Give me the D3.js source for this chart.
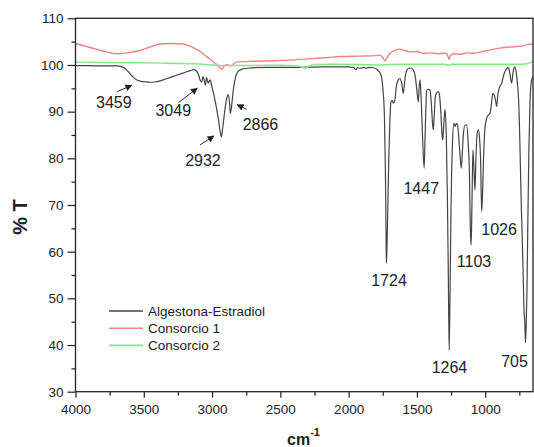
<!DOCTYPE html>
<html>
<head>
<meta charset="utf-8">
<script src="https://cdn.jsdelivr.net/npm/d3@7"></script>
<style>
body { margin: 0; background: #fff; }
svg { display: block; font-family: "Liberation Sans", Arial, sans-serif; }
</style>
</head>
<body>
<svg width="534" height="447"></svg>
<script>
//spectra: [wavenumber cm-1, %T]
var algestona = [
    [4000, 99.85], [3900, 99.85], [3800, 99.8], [3700, 99.8], [3660, 99.6], [3630, 99.1], [3600, 98.1],
    [3575, 97.3], [3550, 96.8], [3520, 96.5], [3490, 96.4], [3459, 96.3], [3420, 96.35], [3380, 96.6],
    [3340, 97.0], [3300, 97.4], [3250, 97.9], [3200, 98.4], [3160, 98.8], [3135, 99.0], [3115, 98.7],
    [3100, 98.0], [3088, 96.8], [3076, 96.4], [3066, 97.5], [3058, 96.8], [3049, 95.7], [3040, 97.3],
    [3028, 96.1], [3015, 96.8], [3000, 95.2], [2985, 93.4], [2970, 91.2], [2955, 88.6], [2942, 86.0],
    [2932, 84.6], [2922, 86.5], [2910, 89.5], [2895, 92.6], [2881, 93.6], [2873, 92.2], [2866, 89.6],
    [2856, 91.5], [2845, 94.5], [2830, 97.2], [2815, 98.4], [2790, 99.0], [2740, 99.3], [2600, 99.5],
    [2400, 99.5], [2200, 99.6], [2000, 99.6], [1965, 99.5], [1955, 99.2], [1947, 99.0], [1935, 99.4],
    [1910, 99.3], [1890, 99.5], [1870, 99.3], [1850, 99.5], [1820, 99.4], [1795, 99.1], [1775, 98.5],
    [1760, 97.5], [1748, 94.5], [1738, 89], [1731, 78], [1726, 64], [1724, 57.5], [1720, 60], [1714, 68],
    [1706, 80], [1698, 88], [1690, 92.1], [1680, 92.4], [1673, 91.8], [1663, 92.3], [1650, 95.5],
    [1637, 96.8], [1624, 97.1], [1612, 96.2], [1600, 93.9], [1593, 95.5], [1587, 97.1], [1575, 98.8],
    [1560, 99.3], [1540, 99.3], [1525, 98.8], [1514, 97.9], [1500, 94.5], [1490, 92.1], [1483, 95.5],
    [1477, 96.8], [1468, 92], [1458, 84], [1447, 77.9], [1440, 85], [1433, 92], [1428, 94.6],
    [1415, 94.8], [1404, 94.6], [1395, 92], [1387, 88], [1380, 86.1], [1372, 90], [1365, 93.2],
    [1355, 94.0], [1344, 94.3], [1335, 93.6], [1325, 90], [1316, 85], [1311, 83.9], [1304, 87],
    [1294, 90.5], [1285, 85], [1277, 72], [1270, 55], [1264, 38.9], [1258, 50], [1250, 70], [1240, 83],
    [1230, 87.5], [1220, 86.8], [1212, 87.5], [1203, 87.2], [1195, 85], [1185, 81], [1175, 77.9],
    [1168, 81], [1160, 85], [1148, 87.1], [1136, 87.1], [1125, 83.5], [1115, 76], [1109, 65],
    [1103, 61.4], [1097, 70], [1090, 81.8], [1083, 78], [1075, 73.2], [1068, 80], [1060, 85],
    [1051, 86.1], [1042, 84.5], [1034, 80], [1026, 68.6], [1020, 72], [1012, 80], [1003, 86],
    [989, 88.6], [975, 89.3], [965, 89.6], [955, 91.5], [945, 93.9], [935, 93.6], [925, 92.5],
    [916, 91.1], [908, 93.5], [898, 95], [879, 96.1], [865, 97.8], [855, 98.6], [840, 99.3],
    [831, 99.5], [822, 98.6], [812, 96.8], [806, 96.1], [798, 98.0], [790, 99.3], [782, 99.6],
    [772, 98.2], [764, 96], [758, 93.9], [750, 88], [742, 78], [735, 69], [728, 62], [722, 55],
    [715, 47], [710, 45], [705, 40.5], [700, 44], [694, 52], [688, 66], [680, 82], [672, 92],
    [662, 96.5], [650, 97.5]
];

var consorcio1 = [
    [4000, 104.6], [3900, 103.8], [3800, 103.0], [3700, 102.4], [3620, 102.6], [3528, 103.1],
    [3450, 103.9], [3381, 104.5], [3300, 104.6], [3211, 104.5], [3150, 103.9], [3088, 102.9],
    [3040, 101.8], [2991, 100.7], [2955, 99.8], [2930, 99.1], [2912, 99.7], [2893, 100.1],
    [2875, 99.9], [2856, 99.8], [2840, 100.3], [2820, 100.6], [2700, 100.8], [2550, 100.9],
    [2405, 101.1], [2300, 101.3], [2150, 101.6], [2063, 101.8], [1917, 101.9], [1800, 102.0],
    [1770, 102.1], [1750, 101.6], [1734, 100.9], [1715, 101.8], [1697, 102.5], [1660, 103.1],
    [1624, 103.4], [1580, 103.0], [1530, 102.8], [1500, 102.9], [1453, 102.5], [1400, 102.6],
    [1350, 102.4], [1300, 102.5], [1282, 102.4], [1272, 101.8], [1265, 101.2], [1255, 102.0],
    [1234, 102.4], [1180, 102.3], [1130, 102.6], [1087, 102.5], [1000, 103.0], [892, 103.6],
    [800, 103.9], [721, 104.1], [690, 104.4], [660, 104.5], [650, 104.7]
];

var consorcio2 = [
    [4000, 100.6], [3700, 100.5], [3381, 100.4], [3100, 100.2], [2991, 100.0], [2930, 99.85],
    [2880, 99.9], [2700, 99.9], [2500, 99.95], [2380, 99.8], [2330, 99.4], [2318, 99.3],
    [2300, 99.6], [2250, 100.1], [2100, 100.15], [1917, 100.1], [1770, 100.0], [1700, 100.1],
    [1500, 100.15], [1300, 100.15], [1268, 99.95], [1250, 100.15], [1000, 100.15], [800, 100.15],
    [700, 100.2], [670, 100.5], [650, 100.8]
];

var seriesNames = ["Algestona-Estradiol", "Consorcio 1", "Consorcio 2"];
var seriesColors = ["#444444", "#f08484", "#82e882"];

//axis ticks
var xMajor = [4000, 3500, 3000, 2500, 2000, 1500, 1000];
var xMinor = [3750, 3250, 2750, 2250, 1750, 1250, 750];
var yMajor = [30, 40, 50, 60, 70, 80, 90, 100, 110];
var yMinor = [35, 45, 55, 65, 75, 85, 95, 105];

//labelled bands
var peakWn = [3459, 3049, 2932, 2866, 1724, 1447, 1264, 1103, 1026, 705];

//label placement in px from the band minimum: [dx, dy, arrow tail dx, dy, arrow tip dx, dy]
var peakLayout = {
    3459: [-35.6, 25.8, -32, 9.4, -17.7, 3],
    3049: [-32.1, 31, -27, 17.6, -8.1, 3.2],
    2932: [-18.4, 29.1, -21.4, 8.1, -7.4, -0.9],
    2866: [30.1, 16, 16.3, -4.2, 6.9, -8.8],
    1724: [2.7, 22.7],
    1447: [-2.9, 26.2],
    1264: [0.3, 23.3],
    1103: [2.9, 21.6],
    1026: [17.4, 23.5],
    705: [-11, 24]
};

var svg = d3.select("svg");
var plotL = 75.5, plotR = 533, plotT = 18.3, plotB = 391.7;

var x = d3.scaleLinear().domain([4000, 650]).range([plotL, plotR]);
var y = d3.scaleLinear().domain([30, 110]).range([plotB, plotT]);

var defs = svg.append("defs");
defs.append("clipPath").attr("id", "plot")
    .append("rect")
    .attr("x", plotL).attr("y", plotT)
    .attr("width", plotR - plotL).attr("height", plotB - plotT);

defs.append("marker")
    .attr("id", "head")
    .attr("viewBox", "0 0 10 10")
    .attr("refX", 9).attr("refY", 5)
    .attr("markerWidth", 7).attr("markerHeight", 7)
    .attr("markerUnits", "userSpaceOnUse")
    .attr("orient", "auto")
    .append("path")
    .attr("d", "M0,0 L10,5 L0,10 z")
    .attr("fill", "#222");

//axes
function styleAxis(g) {
    g.select(".domain").remove();
    g.selectAll("line").attr("stroke", "#222").attr("stroke-width", 1.2);
    g.selectAll("text").attr("fill", "#222").style("font-size", "13.5px")
        .style("font-family", "'Liberation Sans', Arial, sans-serif");
}

svg.append("g").attr("transform", "translate(0," + plotB + ")")
    .call(d3.axisBottom(x).tickValues(xMajor).tickSize(6).tickPadding(7).tickFormat(d3.format("d")))
    .call(styleAxis);
svg.append("g").attr("transform", "translate(0," + plotB + ")")
    .call(d3.axisBottom(x).tickValues(xMinor).tickSize(4).tickFormat(""))
    .call(styleAxis);
svg.append("g").attr("transform", "translate(" + plotL + ",0)")
    .call(d3.axisLeft(y).tickValues(yMajor).tickSize(8).tickPadding(4))
    .call(styleAxis);
svg.append("g").attr("transform", "translate(" + plotL + ",0)")
    .call(d3.axisLeft(y).tickValues(yMinor).tickSize(4).tickFormat(""))
    .call(styleAxis);

//spectra
var line = d3.line()
    .x(function (d) { return x(d[0]); })
    .y(function (d) { return y(d[1]); })
    .curve(d3.curveMonotoneX);

var plot = svg.append("g").attr("clip-path", "url(#plot)");
[algestona, consorcio1, consorcio2].forEach(function (s, i) {
    plot.append("path")
        .datum(s)
        .attr("fill", "none")
        .attr("stroke", seriesColors[i])
        .attr("stroke-width", i === 0 ? 1.2 : 1.4)
        .attr("stroke-linejoin", "round")
        .attr("d", line);
});

//frame
svg.append("rect")
    .attr("x", plotL).attr("y", plotT)
    .attr("width", plotR - plotL).attr("height", plotB - plotT)
    .attr("fill", "none")
    .attr("stroke", "#222")
    .attr("stroke-width", 1.3);

//band labels
peakWn.forEach(function (wn) {
    var pt = algestona.find(function (d) { return d[0] === wn; });
    var px = x(pt[0]), py = y(pt[1]);
    var o = peakLayout[wn];
    svg.append("text")
        .attr("x", px + o[0]).attr("y", py + o[1])
        .attr("text-anchor", "middle")
        .attr("fill", "#222")
        .style("font-size", "16px")
        .text(wn);
    if (o.length > 2) {
        svg.append("line")
            .attr("x1", px + o[2]).attr("y1", py + o[3])
            .attr("x2", px + o[4]).attr("y2", py + o[5])
            .attr("stroke", "#222")
            .attr("stroke-width", 1)
            .attr("marker-end", "url(#head)");
    }
});

//legend
var legend = svg.append("g").attr("transform", "translate(109,311)");
seriesNames.forEach(function (name, i) {
    var row = legend.append("g").attr("transform", "translate(0," + (i * 17.2) + ")");
    row.append("line")
        .attr("x1", 0).attr("x2", 34)
        .attr("stroke", seriesColors[i])
        .attr("stroke-width", 1.6);
    row.append("text")
        .attr("x", 39).attr("dy", "0.35em")
        .attr("fill", "#222")
        .style("font-size", "13.5px")
        .text(name);
});

//axis titles
svg.append("text")
    .attr("transform", "translate(27,217) rotate(-90)")
    .attr("text-anchor", "middle")
    .attr("fill", "#222")
    .style("font-size", "20px")
    .style("font-weight", "bold")
    .text("% T");

var xt = svg.append("text")
    .attr("x", 287).attr("y", 445)
    .attr("fill", "#222")
    .style("font-size", "16px")
    .style("font-weight", "bold");
xt.append("tspan").text("cm");
xt.append("tspan").attr("dy", -9).style("font-size", "11px").text("-1");
</script>
</body>
</html>
